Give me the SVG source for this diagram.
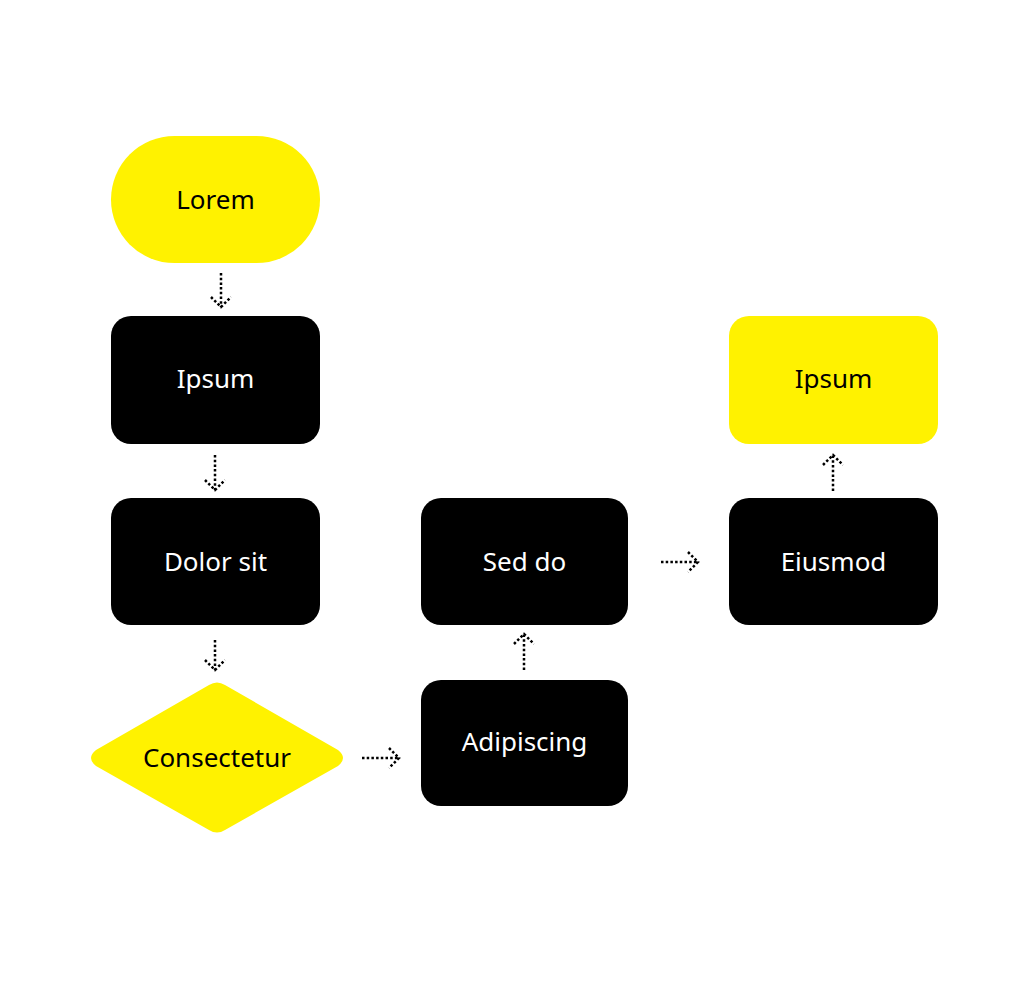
<svg xmlns="http://www.w3.org/2000/svg" width="1024" height="992" viewBox="0 0 1024 992">
<style>
.y{fill:#fff200}
.b{fill:#000}
.tb{font-family:"Noto Sans","Liberation Sans",sans-serif;font-size:26px;fill:#000;text-anchor:middle;dominant-baseline:central}
.tw{font-family:"Noto Sans","Liberation Sans",sans-serif;font-size:26px;fill:#fff;text-anchor:middle;dominant-baseline:central}
.c{fill:none;stroke:#000;stroke-width:2.5;stroke-dasharray:2.5 2.2}
</style>
<rect width="1024" height="992" fill="#fff"/>
<g id="lorem"><rect class="y" x="111" y="136" width="209" height="127" rx="63.5"/><text class="tb" x="215.5" y="199">Lorem</text></g>
<g id="ipsum1"><rect class="b" x="111" y="316" width="209" height="128" rx="20"/><text class="tw" x="215.5" y="378">Ipsum</text></g>
<g id="dolor"><rect class="b" x="111" y="498" width="209" height="127" rx="20"/><text class="tw" x="215.5" y="561">Dolor sit</text></g>
<g id="consectetur"><path class="y" d="M209,685 Q217,680 225,685 L338,750 Q348,758 338,766 L225,830 Q217,835 209,830 L96,766 Q86,758 96,750 Z"/><text class="tb" x="217" y="757">Consectetur</text></g>
<g id="adipiscing"><rect class="b" x="421" y="680" width="207" height="126" rx="20"/><text class="tw" x="524.5" y="741">Adipiscing</text></g>
<g id="seddo"><rect class="b" x="421" y="498" width="207" height="127" rx="20"/><text class="tw" x="524.5" y="561">Sed do</text></g>
<g id="eiusmod"><rect class="b" x="729" y="498" width="209" height="127" rx="20"/><text class="tw" x="833.5" y="561">Eiusmod</text></g>
<g id="ipsum2"><rect class="y" x="729" y="316" width="209" height="128" rx="20"/><text class="tw" x="833.5" y="378" style="fill:#000">Ipsum</text></g>
<g id="connectors">
<path class="c" d="M221,273 V307 M211,297 L221,307 L231,297"/>
<path class="c" d="M215,455 V490 M205,480 L215,490 L225,480"/>
<path class="c" d="M215,640 V670 M205,660 L215,670 L225,660"/>
<path class="c" d="M362,758 H399 M389,748 L399,758 L389,768"/>
<path class="c" d="M524,670 V634 M514,644 L524,634 L534,644"/>
<path class="c" d="M661,562 H698 M688,552 L698,562 L688,572"/>
<path class="c" d="M833,491 V455 M823,465 L833,455 L843,465"/>
</g>
</svg>
